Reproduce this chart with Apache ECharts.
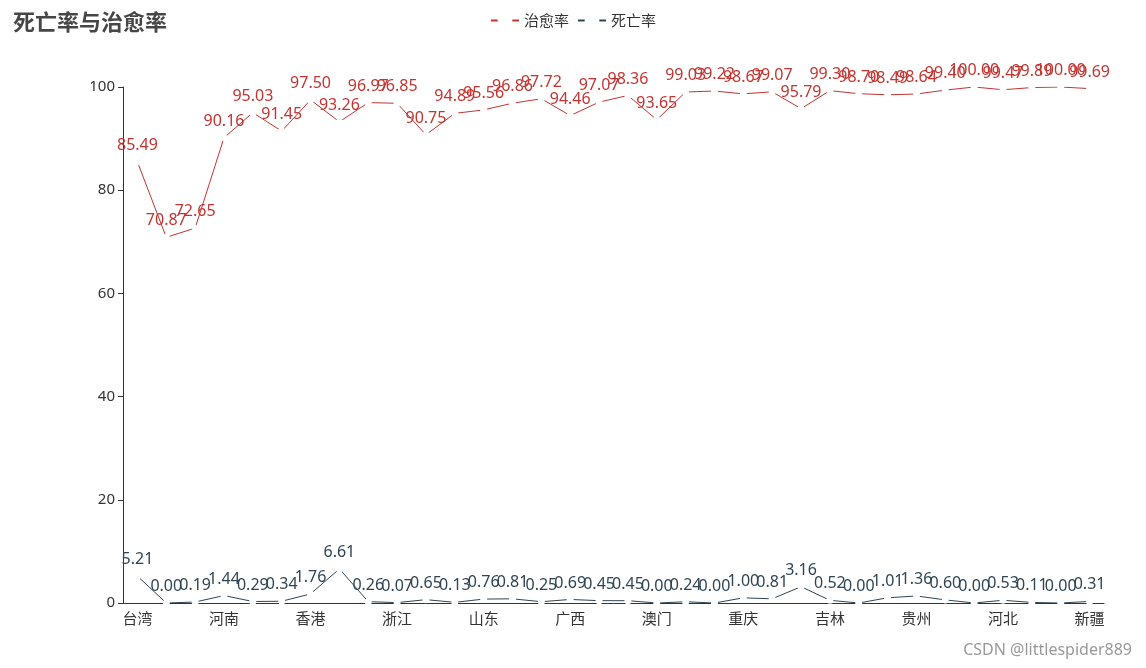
<!DOCTYPE html>
<html>
<head>
<meta charset="utf-8">
<script src="https://cdn.jsdelivr.net/npm/echarts@6/dist/echarts.min.js"></script>
<style>html,body{margin:0;padding:0;background:#fff}#main{width:1146px;height:668px}</style>
</head>
<body>
<div id="main"></div>
<script>
// 省份（只有每隔三个的标签能读出来，其余按常见数据补全）
var provinces = ['台湾', '上海', '四川', '河南', '广东', '福建', '香港', '湖北', '内蒙古', '浙江', '天津', '湖南',
    '山东', '江苏', '北京', '广西', '陕西', '江西', '澳门', '辽宁', '云南', '重庆', '山西', '黑龙江',
    '吉林', '安徽', '海南', '贵州', '甘肃', '宁夏', '河北', '青海', '西藏', '新疆'];
// 治愈率
var cureRate = [85.49, 70.87, 72.65, 90.16, 95.03, 91.45, 97.50, 93.26, 96.97, 96.85, 90.75, 94.89,
    95.56, 96.86, 97.72, 94.46, 97.07, 98.36, 93.65, 99.03, 99.22, 98.67, 99.07, 95.79,
    99.30, 98.70, 98.49, 98.64, 99.40, 100.00, 99.47, 99.89, 100.00, 99.69];
// 死亡率
var deathRate = [5.21, 0.00, 0.19, 1.44, 0.29, 0.34, 1.76, 6.61, 0.26, 0.07, 0.65, 0.13,
    0.76, 0.81, 0.25, 0.69, 0.45, 0.45, 0.00, 0.24, 0.00, 1.00, 0.81, 3.16,
    0.52, 0.00, 1.01, 1.36, 0.60, 0.00, 0.53, 0.11, 0.00, 0.31];

var myChart = echarts.init(document.getElementById('main'));
var labelFmt = function (p) { return p.value.toFixed(2); };
var option = {
    textStyle: { fontFamily: 'Noto Sans' },
    title: {
        text: '死亡率与治愈率', left: 8, top: 6,
        textStyle: { fontSize: 22, fontWeight: 'bold', color: '#464646', fontFamily: 'Noto Sans CJK SC' }
    },
    legend: {
        top: 8, left: 'center', itemWidth: 28, itemHeight: 16,
        textStyle: { fontSize: 15, color: '#333', fontFamily: 'Noto Sans CJK SC' },
        data: ['治愈率', '死亡率']
    },
    color: ['#c23531', '#2f4554'],
    grid: { left: 123, right: 42, top: 87, bottom: 65 },
    xAxis: {
        type: 'category', data: provinces, boundaryGap: true,
        axisLabel: { interval: 2, fontSize: 15, color: '#333', fontFamily: 'Noto Sans CJK SC' },
        axisLine: { lineStyle: { color: '#333' } },
        axisTick: { interval: 2 }
    },
    yAxis: {
        type: 'value', min: 0, max: 100, interval: 20,
        splitLine: { show: false },
        axisLine: { show: true, lineStyle: { color: '#333' } },
        axisTick: { show: true },
        axisLabel: { fontSize: 15, color: '#333' }
    },
    series: [{
        name: '治愈率', type: 'line', data: cureRate,
        symbol: 'emptyCircle', symbolSize: 5,
        itemStyle: { color: '#fff', borderColor: '#c23531', borderWidth: 1 },
        lineStyle: { width: 1, color: '#c23531' },
        label: { show: true, position: 'top', fontSize: 16, color: '#c23531', formatter: labelFmt }
    }, {
        name: '死亡率', type: 'line', data: deathRate,
        symbol: 'emptyCircle', symbolSize: 5,
        itemStyle: { color: '#fff', borderColor: '#2f4554', borderWidth: 1 },
        lineStyle: { width: 1, color: '#2f4554' },
        label: { show: true, position: 'top', fontSize: 16, color: '#2f4554', formatter: labelFmt }
    }],
    graphic: [{
        type: 'text', right: 14, bottom: 10,
        style: { text: 'CSDN @littlespider889', fontSize: 16, fill: '#999', fontFamily: 'Noto Sans' }
    }]
};
myChart.setOption(option);
</script>
</body>
</html>
